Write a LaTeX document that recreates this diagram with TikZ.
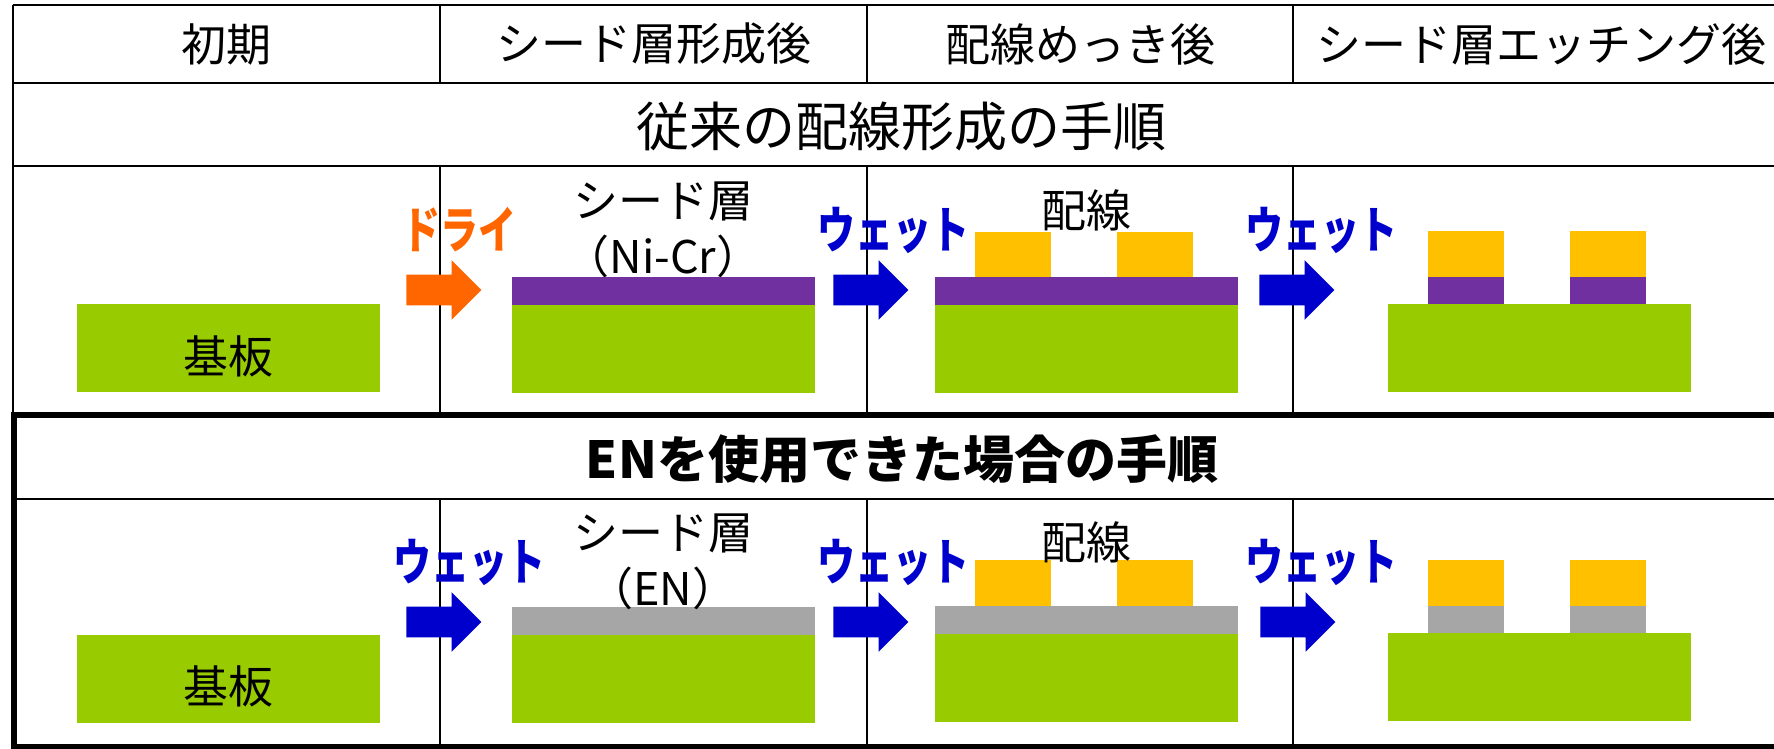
\documentclass[tikz,border=0pt]{standalone}
\usepackage{fontspec}
\setmainfont{Noto Sans CJK JP}
\usetikzlibrary{shapes.arrows}
\definecolor{subgreen}{HTML}{99CC00}
\definecolor{ncpurple}{HTML}{7030A0}
\definecolor{wiregold}{HTML}{FFC000}
\definecolor{engray}{HTML}{A6A6A6}
\definecolor{dryorange}{HTML}{FF6600}
\definecolor{wetblue}{HTML}{0000CC}
\tikzset{
  gridline/.style={line width=1pt, black},
  thickframe/.style={line width=3pt, black},
  hdr/.style={font=\fontsize{22.5}{27}\selectfont, inner sep=0pt},
  bigtitle/.style={font=\fontsize{26.5}{31}\selectfont, inner sep=0pt},
  boldtitle/.style={font=\fontsize{25.5}{30}\selectfont\bfseries, inner sep=0pt},
  lbl/.style={font=\fontsize{22.5}{27}\selectfont, inner sep=0pt},
  proclbl/.style={font=\fontsize{25}{29}\selectfont\bfseries, inner sep=0pt, xscale=0.76, transform shape},
  blockarrow/.style={single arrow, draw=none, inner xsep=0pt, inner ysep=7.5pt,
    minimum height=37.5pt, single arrow head extend=7.25pt, single arrow tip angle=90, anchor=tail},
}
\begin{document}
\begin{tikzpicture}[x=0.5pt,y=-0.5pt]
\useasboundingbox (0,0) rectangle (1774,749);
\clip (0,0) rectangle (1774,749);
% ---------- table lines ----------
\draw[gridline] (12.5,5.5) -- (1800,5.5);
\draw[gridline] (12.5,83) -- (1800,83);
\draw[gridline] (12.5,166) -- (1800,166);
\draw[gridline] (12.5,5.5) -- (12.5,415);
\foreach \cx in {440,867,1293}{
  \draw[gridline] (\cx,5.5) -- (\cx,83);
  \draw[gridline] (\cx,166) -- (\cx,415);
  \draw[gridline] (\cx,499) -- (\cx,747);
}
\draw[gridline] (13.5,499) -- (1800,499);
\draw[thickframe] (13.5,415) rectangle (1800,747);
% ---------- headers ----------
\node[hdr] (h1) at (226.5,44) {初期};
\node[hdr] (h2) at (653.5,44) {シード層形成後};
\node[hdr] (h3) at (1080,44) {配線めっき後};
\node[hdr] (h4) at (1541,44) {シード層エッチング後};
\node[bigtitle] (t1) at (901,126.5) {従来の配線形成の手順};
\node[boldtitle] (t2) at (902,459) {ENを使用できた場合の手順};
% ---------- conventional process ----------
\fill[subgreen] (77,304) rectangle (380,392);
\node[lbl] (sub1) at (228,356) {基板};
\fill[subgreen] (512,305) rectangle (815,393);
\fill[ncpurple] (512,277) rectangle (815,305);
\node[lbl] (seed1) at (663,201) {シード層};
\node[lbl] (seed1b) at (663,256) {（Ni-Cr）};
\fill[subgreen] (935,305) rectangle (1238,393);
\fill[ncpurple] (935,277) rectangle (1238,305);
\fill[wiregold] (975,232) rectangle (1051,277);
\fill[wiregold] (1117,232) rectangle (1193,277);
\node[lbl] (wire1) at (1086,210) {配線};
\fill[subgreen] (1388,304) rectangle (1691,392);
\fill[ncpurple] (1428,277) rectangle (1504,304);
\fill[ncpurple] (1570,277) rectangle (1646,304);
\fill[wiregold] (1428,231) rectangle (1504,277);
\fill[wiregold] (1570,231) rectangle (1646,277);
\node[blockarrow, fill=dryorange] (ar1) at (406,290) {};
\node[blockarrow, fill=wetblue] (ar2) at (833,290) {};
\node[blockarrow, fill=wetblue] (ar3) at (1259,290) {};
\node[proclbl, text=dryorange] (lb1) at (459,230) {ドライ};
\node[proclbl, text=wetblue] (lb2) at (893,230) {ウェット};
\node[proclbl, text=wetblue] (lb3) at (1321,230) {ウェット};
% ---------- EN process ----------
\fill[subgreen] (77,635) rectangle (380,723);
\node[lbl] (sub2) at (228,686) {基板};
\fill[subgreen] (512,635) rectangle (815,723);
\fill[engray] (512,607) rectangle (815,635);
\node[lbl] (seed2) at (663,533) {シード層};
\node[lbl] (seed2b) at (663,588) {（EN）};
\fill[subgreen] (935,634) rectangle (1238,722);
\fill[engray] (935,606) rectangle (1238,634);
\fill[wiregold] (975,560) rectangle (1051,606);
\fill[wiregold] (1117,560) rectangle (1193,606);
\node[lbl] (wire2) at (1086,542) {配線};
\fill[subgreen] (1388,633) rectangle (1691,721);
\fill[engray] (1428,606) rectangle (1504,633);
\fill[engray] (1570,606) rectangle (1646,633);
\fill[wiregold] (1428,560) rectangle (1504,606);
\fill[wiregold] (1570,560) rectangle (1646,606);
\node[blockarrow, fill=wetblue] (ar4) at (406,622) {};
\node[blockarrow, fill=wetblue] (ar5) at (833,622) {};
\node[blockarrow, fill=wetblue] (ar6) at (1260,622) {};
\node[proclbl, text=wetblue] (lb4) at (469,562) {ウェット};
\node[proclbl, text=wetblue] (lb5) at (893,562) {ウェット};
\node[proclbl, text=wetblue] (lb6) at (1321,562) {ウェット};
\end{tikzpicture}
\end{document}
